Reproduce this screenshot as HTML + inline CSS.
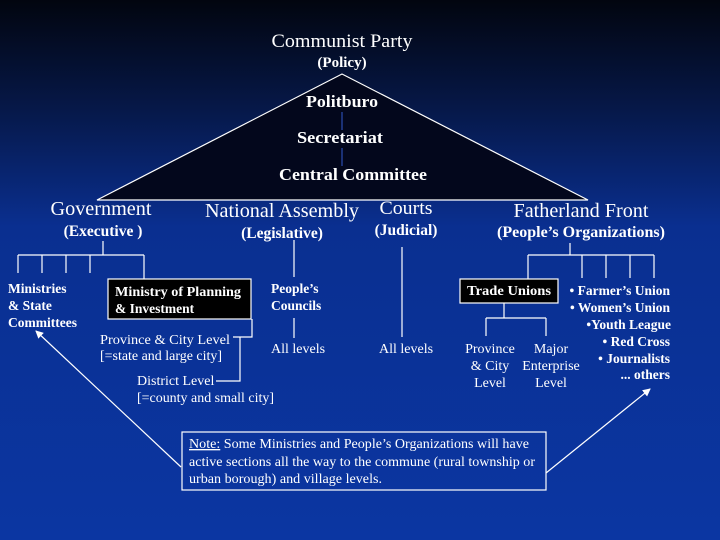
<!DOCTYPE html>
<html><head><meta charset="utf-8"><style>
html,body{margin:0;padding:0;width:720px;height:540px;overflow:hidden;background:#0b35a0}
svg{display:block}
text{font-family:"Liberation Serif",serif;fill:#fff}
.b{font-weight:bold}
</style></head><body>
<svg width="720" height="540" viewBox="0 0 720 540" xmlns="http://www.w3.org/2000/svg">
<defs>
<linearGradient id="bg" x1="0" y1="0" x2="0" y2="1">
<stop offset="0" stop-color="#02050f"/>
<stop offset="0.2" stop-color="#061848"/>
<stop offset="0.42" stop-color="#0a2f90"/>
<stop offset="1" stop-color="#0b36a2"/>
</linearGradient>
<marker id="ah" markerWidth="8" markerHeight="8" refX="7" refY="4" orient="auto" markerUnits="userSpaceOnUse">
<path d="M0,0 L8,4 L0,8 Z" fill="#fff"/>
</marker>
</defs>
<rect width="720" height="540" fill="url(#bg)"/>
<g fill="none" stroke="#fff" stroke-width="1.2">
<path d="M97,200 L342,74 L588,200 Z" fill="#03071c"/>
<line x1="342" y1="112" x2="342" y2="130" stroke="#2a4db0"/>
<line x1="342" y1="148" x2="342" y2="166" stroke="#2a4db0"/>
<path d="M103,241 V255 M18,255 H144 M18,255 V273 M42,255 V273 M66,255 V273 M90,255 V273 M144,255 V279"/>
<rect x="108" y="279" width="143" height="40" fill="#000"/>
<path d="M252,319 V337 H233 M240,337 V381 H216"/>
<path d="M294,240 V277 M294,318 V338"/>
<path d="M402,247 V337"/>
<path d="M570,243 V255 M528,255 H654 M528,255 V279 M582,255 V278 M606,255 V278 M630,255 V278 M654,255 V278"/>
<rect x="460" y="279" width="98" height="24" fill="#000"/>
<path d="M504,303 V318 M486,318 H546 M486,318 V336 M546,318 V336"/>
<rect x="182" y="432" width="364" height="58" fill="none"/>
<line x1="181" y1="467" x2="36" y2="331" marker-end="url(#ah)"/>
<line x1="546" y1="473" x2="650" y2="389" marker-end="url(#ah)"/>
</g>
<g text-anchor="middle">
<text x="342" y="47" font-size="19" textLength="141" lengthAdjust="spacingAndGlyphs">Communist Party</text>
<text x="342" y="67" font-size="15" class="b">(Policy)</text>
<text x="342" y="107" font-size="17" class="b" textLength="72" lengthAdjust="spacingAndGlyphs">Politburo</text>
<text x="340" y="143" font-size="17" class="b" textLength="86" lengthAdjust="spacingAndGlyphs">Secretariat</text>
<text x="353" y="180" font-size="17" class="b" textLength="148" lengthAdjust="spacingAndGlyphs">Central Committee</text>
<text x="101" y="215" font-size="19.5" textLength="101" lengthAdjust="spacingAndGlyphs">Government</text>
<text x="103" y="236" font-size="15.5" class="b">(Executive )</text>
<text x="282" y="217" font-size="20" textLength="154" lengthAdjust="spacingAndGlyphs">National Assembly</text>
<text x="282" y="238" font-size="15.5" class="b">(Legislative)</text>
<text x="406" y="214" font-size="19" textLength="53" lengthAdjust="spacingAndGlyphs">Courts</text>
<text x="406" y="235" font-size="15.5" class="b">(Judicial)</text>
<text x="581" y="217" font-size="20" textLength="135" lengthAdjust="spacingAndGlyphs">Fatherland Front</text>
<text x="581" y="237" font-size="15.5" class="b" textLength="168" lengthAdjust="spacingAndGlyphs">(People’s Organizations)</text>
<text x="509" y="295" font-size="13.5" class="b" textLength="84" lengthAdjust="spacingAndGlyphs">Trade Unions</text>
<text x="490" y="353" font-size="14">Province</text>
<text x="490" y="370" font-size="14">&amp; City</text>
<text x="490" y="387" font-size="14">Level</text>
<text x="551" y="353" font-size="14">Major</text>
<text x="551" y="370" font-size="14">Enterprise</text>
<text x="551" y="387" font-size="14">Level</text>
</g>
<g font-size="13.5" class="b">
<text x="8" y="293" class="b">Ministries</text>
<text x="8" y="310" class="b">&amp; State</text>
<text x="8" y="327" class="b">Committees</text>
<text x="115" y="296" font-size="13.5" class="b" textLength="126" lengthAdjust="spacingAndGlyphs">Ministry of Planning</text>
<text x="115" y="313" font-size="13.5" class="b">&amp; Investment</text>
<text x="271" y="293" class="b">People’s</text>
<text x="271" y="310" class="b">Councils</text>
</g>
<g font-size="14">
<text x="100" y="344" textLength="130" lengthAdjust="spacingAndGlyphs">Province &amp; City Level</text>
<text x="100" y="360" textLength="122" lengthAdjust="spacingAndGlyphs">[=state and large city]</text>
<text x="137" y="385">District Level</text>
<text x="137" y="402" textLength="137" lengthAdjust="spacingAndGlyphs">[=county and small city]</text>
<text x="271" y="353">All levels</text>
<text x="379" y="353">All levels</text>
</g>
<g font-size="13.5" class="b" text-anchor="end">
<text x="670" y="295" class="b">• Farmer’s Union</text>
<text x="670" y="312" class="b">• Women’s Union</text>
<text x="671" y="329" class="b">•Youth League</text>
<text x="670" y="346" class="b">• Red Cross</text>
<text x="670" y="363" class="b">• Journalists</text>
<text x="670" y="379" class="b">... others</text>
</g>
<g font-size="13.5">
<text x="189" y="448" textLength="340" lengthAdjust="spacingAndGlyphs"><tspan text-decoration="underline">Note:</tspan> Some Ministries and People’s Organizations will have</text>
<text x="189" y="466" textLength="346" lengthAdjust="spacingAndGlyphs">active sections all the way to the commune (rural township or</text>
<text x="189" y="483" textLength="193" lengthAdjust="spacingAndGlyphs">urban borough) and village levels.</text>
</g>
</svg>
</body></html>
